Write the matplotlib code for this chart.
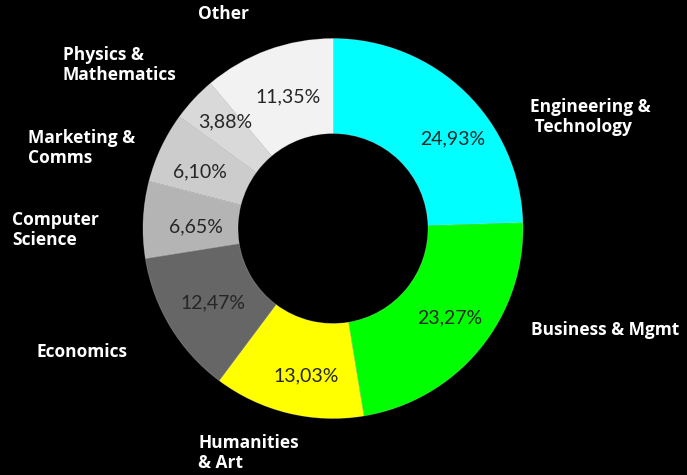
import matplotlib
matplotlib.use("Agg")
from matplotlib import pyplot as plt

# data
categories = ['Engineering &\n Technology', 'Business & Mgmt', 'Humanities\n& Art', 'Economics',
              'Computer\nScience', 'Marketing &\nComms', 'Physics &\nMathematics', 'Other']
shares = [24.93, 23.27, 13.03, 12.47, 6.65, 6.10, 3.88, 11.35]
colors = ['#00ffff', '#00ff00', '#ffff00', '#666666', '#b4b4b4', '#cccccc', '#d9d9d9', '#f2f2f2']

# layout (pixels from top-left of the 687x475 image)
CX, CY, R = 333, 228.5, 190
label_pos = [(530, 117), (531, 330), (198, 453), (37, 352),
             (12, 230), (28, 148), (63, 65), (198, 14)]
pct_pos = [(453, 139), (450, 318), (306, 376), (213, 303),
           (196, 227), (200, 172), (225, 122), (288, 97)]


def to_data(px, py):
    return (px - CX) / R, (CY - py) / R


fig = plt.figure(figsize=(6.87, 4.75), dpi=100, facecolor='black')
ax = fig.add_axes([0, 0, 1, 1])
ax.set_facecolor('black')

ax.pie(shares, colors=colors, startangle=90, counterclock=False, radius=1,
       wedgeprops=dict(width=0.5, linewidth=0.6, edgecolor=(1, 1, 1, 0.25)))

ax.set_xlim(-CX / R, (687 - CX) / R)
ax.set_ylim(-(475 - CY) / R, CY / R)
ax.set_aspect('equal')
ax.axis('off')

for name, (px, py) in zip(categories, label_pos):
    x, y = to_data(px, py)
    ax.text(x, y, name, color='white', fontsize=12.5, fontweight='bold', family='Open Sans',
            ha='left', va='center', linespacing=1.2)

for val, (px, py) in zip(shares, pct_pos):
    x, y = to_data(px, py)
    ax.text(x, y, f'{val:.2f}%'.replace('.', ','), color='#262626', fontsize=14,
            fontweight='normal', family='Lato', ha='center', va='center')

fig.savefig('out.png', dpi=100, facecolor='black')
